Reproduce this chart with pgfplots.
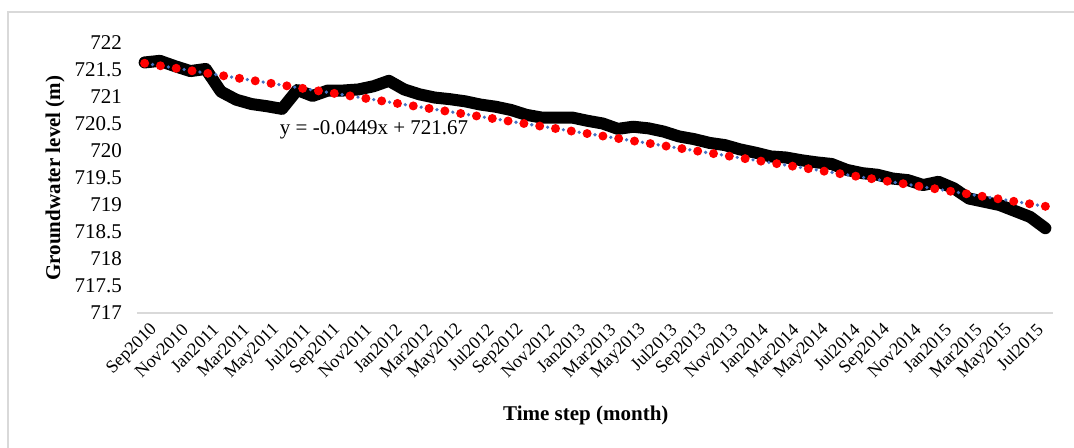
\documentclass[border=0pt]{standalone}
\usepackage{pgfplots}
\pgfplotsset{compat=1.18}
\usepackage{fontspec}
\setmainfont{Liberation Serif}
\definecolor{trendblue}{HTML}{4472C4}
\definecolor{framegray}{HTML}{D9D9D9}
\begin{document}
\begin{tikzpicture}
\pgfplotstableread{
x y
1 721.64
2 721.67
3 721.57
4 721.48
5 721.52
6 721.10
7 720.95
8 720.87
9 720.83
10 720.78
11 721.13
12 721.02
13 721.12
14 721.12
15 721.14
16 721.20
17 721.30
18 721.14
19 721.05
20 720.99
21 720.96
22 720.92
23 720.86
24 720.82
25 720.76
26 720.67
27 720.62
28 720.62
29 720.62
30 720.56
31 720.51
32 720.41
33 720.45
34 720.42
35 720.36
36 720.27
37 720.22
38 720.15
39 720.11
40 720.03
41 719.97
42 719.90
43 719.88
44 719.83
45 719.79
46 719.76
47 719.65
48 719.59
49 719.56
50 719.49
51 719.46
52 719.37
53 719.43
54 719.31
55 719.12
56 719.06
57 719.00
58 718.89
59 718.78
60 718.57
}\gw
\pgfplotstableread{
x y
1 721.6251
60 718.9760
}\trend
\path[use as bounding box] (-68.5pt,-67pt) rectangle (468.5pt,156.5pt);
\draw[framegray, line width=1pt] (-64.5pt,-70pt) -- (-64.5pt,150.5pt) -- (470pt,150.5pt);
\begin{axis}[
  at={(0,0)}, anchor=south west,
  scale only axis, width=458pt, height=135pt,
  xmin=0.5, xmax=60.5, ymin=717, ymax=722,
  axis x line*=bottom, axis y line*=left,
  x axis line style={framegray, line width=1pt, -},
  y axis line style={draw=none},
  major tick length=0pt,
  xtick={1,3,...,59},
  xticklabels={Sep2010,Nov2010,Jan2011,Mar2011,May2011,Jul2011,Sep2011,Nov2011,Jan2012,Mar2012,May2012,Jul2012,Sep2012,Nov2012,Jan2013,Mar2013,May2013,Jul2013,Sep2013,Nov2013,Jan2014,Mar2014,May2014,Jul2014,Sep2014,Nov2014,Jan2015,Mar2015,May2015,Jul2015},
  xticklabel style={rotate=45, anchor=east, font=\fontsize{9}{10}\selectfont, yshift=-8.5pt, xshift=2pt},
  ytick={717,717.5,...,722},
  scaled y ticks=false,
  yticklabel style={font=\fontsize{10.5}{12}\selectfont, /pgf/number format/fixed, /pgf/number format/precision=1, xshift=-4pt},
  /pgf/number format/assume math mode=true,
  xlabel={\textbf{Time step (month)}},
  ylabel={\textbf{Groundwater level (m)}},
  xlabel style={font=\fontsize{10.5}{12}\selectfont, at={(rel axis cs:0.49,-0.38)}, anchor=center},
  ylabel style={font=\fontsize{10.5}{12}\selectfont, at={(rel axis cs:-0.0895,0.5)}, anchor=center},
  clip=false,
]
\addplot[black, line width=6pt, line cap=round, line join=round] table[x=x,y=y] {\gw};
\addplot[trendblue, line width=1.8pt, line cap=round, dash pattern=on 0pt off 8pt, dash phase=4pt] table[x=x,y=y] {\trend};
\addplot[red, line width=4.5pt, line cap=round, dash pattern=on 0pt off 8pt] table[x=x,y=y] {\trend};
\node[anchor=west, font=\fontsize{10.5}{12}\selectfont, inner sep=0pt] at (axis cs:9.84,720.39) {y = -0.0449x + 721.67};
\end{axis}
\end{tikzpicture}
\end{document}
